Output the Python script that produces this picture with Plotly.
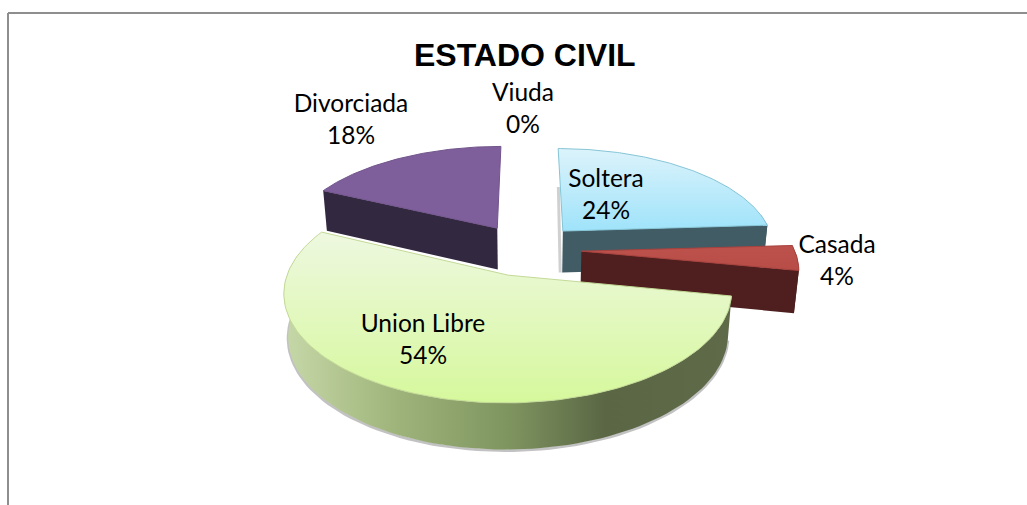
import numpy as np
import plotly.graph_objects as go

title = "ESTADO CIVIL"
categories = ["Soltera", "Casada", "Union Libre", "Divorciada", "Viuda"]
percent = [24, 4, 54, 18, 0]

# style / layout
top_colors = [["#9fe3fa", "#dcf3fb"], ["#b84c47", "#bd524c"], ["#d6f89c", "#eef8e0"], ["#7f5f9b", "#7f5f9b"], ["#cccccc", "#cccccc"]]
edge_colors = ["#86c5d6", "#a8423e", "#c3d996", "#71558c", "#cccccc"]
wall_colors = ["#425c66", "#4e1f1e", "#5a6644", "#32283f", "#cccccc"]
union_wall_scale = [[0, "#c6d8a8"], [0.25, "#9fb47b"], [0.5, "#7f9560"], [0.72, "#5a6644"], [1, "#5e6a48"]]
label_pos = [(606, 197), (837, 262.5), (423, 342), (351, 121.5), (523, 111)]
draw_order = [0, 1, 3, 2]

CX, CY, A, B, P, EXPLODE, DEPTH = 526, 249.5, 213, 100, 0.15, 0.26, 42


def project(X, Y, wall=False):
    w = 1 + P * Y
    sx = CX + A * X / w
    sy = CY - B * Y / w
    if wall:
        sx = sx + (CX - sx) * 0.018
        sy = sy + DEPTH / np.sqrt(w)
    return sx, sy


def slice_geometry(start, end):
    mid = np.radians((start + end) / 2)
    ox, oy = EXPLODE * np.sin(mid), EXPLODE * np.cos(mid)
    return ox, oy


fig = go.Figure()

# frame of the chart area
fig.add_shape(type="line", x0=8, y0=13, x1=1027, y1=13, line=dict(color="#8e8e8e", width=2))
fig.add_shape(type="line", x0=8, y0=13, x1=8, y1=505, line=dict(color="#8e8e8e", width=2))

cum = np.concatenate([[0], np.cumsum(percent)]) * 3.6


def poly(x, y, color=None, scale=None, kind="vertical", line=None):
    kw = dict(x=x, y=y, mode="lines", fill="toself", hoverinfo="skip", showlegend=False,
              line=dict(color=line or "rgba(0,0,0,0)", width=1))
    if scale is not None:
        kw["fillgradient"] = dict(type=kind, colorscale=scale)
    else:
        kw["fillcolor"] = color
    fig.add_trace(go.Scatter(**kw))


for i in draw_order:
    s, e = cum[i], cum[i + 1]
    ox, oy = slice_geometry(s, e)
    # soft shadow beside the left cut face of the first slice
    if i == 0:
        X = np.array([ox + 0.5 * np.sin(np.radians(s)), ox])
        Y = np.array([oy + 0.5 * np.cos(np.radians(s)), oy])
        tx, ty = project(X, Y)
        bx, by = project(X, Y, wall=True)
        fig.add_trace(go.Scatter(x=[tx[0] - 2, bx[1] - 2], y=[ty[0], by[1]], mode="lines", hoverinfo="skip",
                                 showlegend=False, line=dict(color="rgba(120,120,120,0.35)", width=3)))
    # outer side wall, front-facing part
    a0, a1 = max(s, 80), min(e, 282)
    if a1 > a0:
        th = np.radians(np.linspace(a0, a1, 90))
        X, Y = ox + np.sin(th), oy + np.cos(th)
        tx, ty = project(X, Y)
        bx, by = project(X, Y, wall=True)
        px = np.concatenate([tx, bx[::-1]])
        py = np.concatenate([ty, by[::-1]])
        if i == 2:
            fig.add_trace(go.Scatter(x=bx, y=by + 1, mode="lines", hoverinfo="skip", showlegend=False,
                                     line=dict(color="rgba(120,120,120,0.45)", width=3)))
            poly(px, py, scale=union_wall_scale, kind="horizontal")
        else:
            poly(px, py, color=wall_colors[i])
    # radial cut faces that look towards the viewer
    for ang, visible in ((s, np.sin(np.radians(s)) < -1e-6), (e, np.sin(np.radians(e)) > 1e-6)):
        if visible:
            t = np.radians(ang)
            X = np.array([ox, ox + np.sin(t)])
            Y = np.array([oy, oy + np.cos(t)])
            tx, ty = project(X, Y)
            bx, by = project(X, Y, wall=True)
            poly(np.concatenate([tx, bx[::-1]]), np.concatenate([ty, by[::-1]]), color=wall_colors[i])
    # top surface
    th = np.radians(np.linspace(s, e, 120))
    X = np.concatenate([[ox], ox + np.sin(th), [ox]])
    Y = np.concatenate([[oy], oy + np.cos(th), [oy]])
    tx, ty = project(X, Y)
    poly(tx, ty, scale=[[0, top_colors[i][0]], [1, top_colors[i][1]]], line=edge_colors[i])

labels = [f"{c}<br>{p}%" for c, p in zip(categories, percent)]
fig.add_trace(go.Scatter(
    x=[p[0] for p in label_pos], y=[p[1] for p in label_pos], text=labels, mode="text",
    textposition="middle center", hoverinfo="skip", showlegend=False,
    textfont=dict(family="Lato", size=24.5, color="#000000")))

fig.add_annotation(x=525, y=55, text=f"<b>{title}</b>", showarrow=False,
                   font=dict(family="Liberation Sans", size=32, color="#000000"))

fig.update_layout(
    width=1027, height=505, margin=dict(l=0, r=0, t=0, b=0),
    paper_bgcolor="white", plot_bgcolor="white",
    xaxis=dict(range=[0, 1027], visible=False, fixedrange=True),
    yaxis=dict(range=[505, 0], visible=False, fixedrange=True),
)
fig.write_html("out.html", post_script="document.body.style.margin='0';",
               config=dict(displayModeBar=False))
